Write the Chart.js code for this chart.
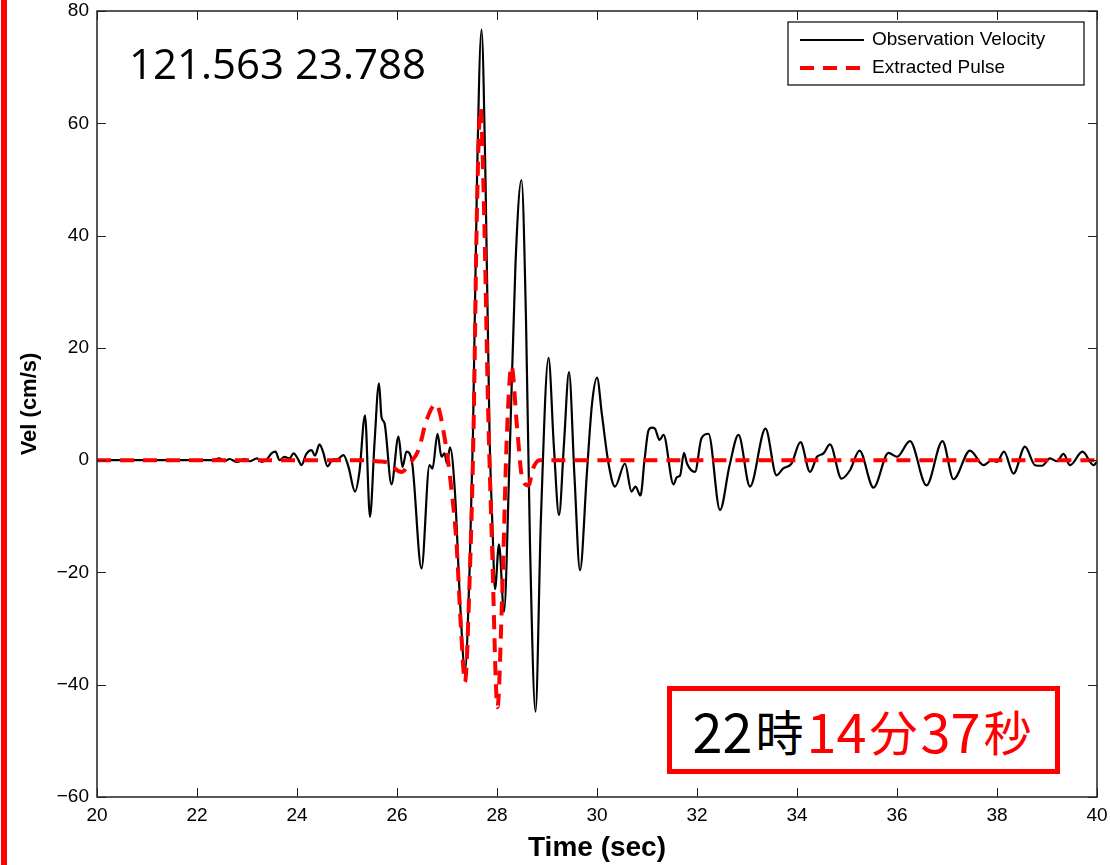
<!DOCTYPE html>
<html>
<head>
<meta charset="utf-8">
<script src="https://cdn.jsdelivr.net/npm/chart.js@4.4.1/dist/chart.umd.min.js"></script>
<style>
  body { margin: 0; background: #fff; }
  #wrap { position: relative; width: 1110px; height: 865px; }
  #redBar { position: absolute; left: 1px; top: 0; width: 6px; height: 865px; background: #ff0000; }
  #coords { position: absolute; left: 129px; top: 36px; font: 42px "Open Sans", sans-serif; color: #000; line-height: 54px; white-space: nowrap; }
  #stamp {
    position: absolute; left: 667px; top: 686px; width: 393px; height: 88px;
    box-sizing: border-box; border: 5px solid #ff0000; background: #fff;
    display: flex; align-items: center; justify-content: center;
    font-family: "Noto Sans CJK JP", sans-serif; white-space: nowrap;
  }
  #stamp .num { font-size: 54px; line-height: 1; }
  #stamp .kan { font-size: 48px; line-height: 1; margin: 0 3px; }
  .blk { color: #000; }
  .red { color: #ff0000; }
</style>
</head>
<body>
<div id="wrap">
  <canvas id="grafico" width="1110" height="865"></canvas>
  <div id="redBar"></div>
  <div id="coords">121.563 23.788</div>
  <div id="stamp"><span class="num blk">22</span><span class="kan blk">時</span><span class="num red">14</span><span class="kan red">分</span><span class="num red">37</span><span class="kan red">秒</span></div>
</div>
<script>
const obsTime = [20, 22.3, 22.45, 22.55, 22.65, 22.8, 22.95, 23.05, 23.2, 23.3, 23.4, 23.49, 23.57, 23.65, 23.75, 23.85, 23.93, 24.02, 24.09, 24.18, 24.29, 24.36, 24.45, 24.52, 24.61, 24.7, 24.82, 24.93, 25.03, 25.16, 25.25, 25.36, 25.46, 25.55, 25.64, 25.69, 25.75, 25.89, 26.03, 26.11, 26.19, 26.3, 26.49, 26.65, 26.71, 26.81, 26.89, 26.95, 27.0, 27.06, 27.16, 27.26, 27.36, 27.45, 27.52, 27.6, 27.69, 27.77, 27.85, 27.91, 27.96, 28.04, 28.14, 28.25, 28.37, 28.49, 28.58, 28.66, 28.77, 28.88, 29.03, 29.14, 29.24, 29.34, 29.44, 29.55, 29.66, 29.8, 29.9, 30.0, 30.1, 30.23, 30.36, 30.56, 30.69, 30.77, 30.87, 30.95, 31.03, 31.1, 31.16, 31.25, 31.33, 31.53, 31.6, 31.66, 31.74, 31.8, 31.96, 32.09, 32.23, 32.46, 32.65, 32.83, 33.06, 33.37, 33.59, 33.72, 33.89, 34.07, 34.26, 34.4, 34.53, 34.66, 34.89, 35.06, 35.25, 35.53, 35.83, 36.0, 36.26, 36.59, 36.91, 37.13, 37.46, 37.73, 37.9, 38.0, 38.14, 38.33, 38.56, 38.76, 38.9, 39.06, 39.2, 39.33, 39.46, 39.71, 39.93, 40];
const obsVel = [0, 0, 0.3, -0.2, 0.2, -0.3, 0.2, -0.2, 0.3, -0.3, 0.2, 1.2, 1.5, 0, 0.6, 0.3, 1.2, 0.2, -0.9, 1.0, 1.8, 0.8, 2.8, 1.5, -1.1, 0, 0.2, 0.9, -1.2, -5.6, -2, 8.0, -10.1, 3, 13.7, 7.7, 6.6, -4.3, 4.2, -1.2, 1.5, -0.3, -19.3, -0.9, -1.5, 4.7, 0.6, 1.2, -0.6, 2.3, -5.9, -25, -37.5, -20, 5, 50, 76.7, 50, 5, -12, -23, -15, -27, 0, 35, 49.9, 25, -15, -44.8, -10, 18.2, 2, -9.8, 3, 15.7, -3, -19.6, -2, 10, 14.7, 8, -0.6, -4.7, -0.6, -5.6, -4.7, -6.3, 0, 5.3, 5.8, 5.6, 3.6, 4.5, -4.3, -3, -2.8, 1.3, -0.6, -2.1, 3.9, 4.7, -8.9, -1, 4.5, -4.7, 5.6, -2.7, -1.5, -0.6, 3.2, -2.1, 0.6, 1.2, 2.8, -3.3, -1.8, 1.7, -4.9, 1.3, 0.6, 3.4, -4.5, 3.4, -3.4, 1.7, -0.9, 0, -0.3, 1.5, -2.4, 2.4, -0.9, -1, 0.3, -0.2, 1.1, -0.9, 1.5, -0.9, -0.3];

// extracted pulse
const pulseTime = [20, 25.3, 25.6, 25.86, 26.0, 26.09, 26.25, 26.43, 26.59, 26.78, 26.96, 27.09, 27.19, 27.28, 27.36, 27.45, 27.53, 27.6, 27.67, 27.74, 27.82, 27.9, 28.01, 28.1, 28.2, 28.29, 28.4, 28.5, 28.63, 28.72, 28.85, 40];
const pulseVel = [0, 0, -0.2, -0.6, -1.8, -2.1, -0.6, 1.8, 7.1, 10, 3.6, -5.3, -14.8, -30, -39.5, -22, 5, 45, 62.7, 45, 10, -15, -44, -25, 5, 16.8, 6, -3, -4.5, -1.5, 0, 0];

const seriesNames = ['Observation Velocity', 'Extracted Pulse'];
const xTicks = [20, 22, 24, 26, 28, 30, 32, 34, 36, 38, 40];
const yTicks = [-60, -40, -20, 0, 20, 40, 60, 80];

const toPoints = (xs, ys) => xs.map((x, i) => ({ x: x, y: ys[i] }));

Chart.defaults.font.family = '"Liberation Sans", Arial, sans-serif';
Chart.defaults.color = '#000';

// box, inward ticks and legend drawn inside the plot, matlab style
const marcoPlugin = {
    id: 'marco',
    afterDraw(chart) {
        const ctx = chart.ctx;
        const a = chart.chartArea;
        const xs = chart.scales.x;
        const ys = chart.scales.y;
        const tl = 9;
        ctx.save();
        ctx.strokeStyle = '#222';
        ctx.lineWidth = 1.5;
        ctx.strokeRect(a.left, a.top, a.right - a.left, a.bottom - a.top);
        ctx.lineWidth = 1;
        ctx.beginPath();
        xTicks.forEach(v => {
            const px = Math.round(xs.getPixelForValue(v)) + 0.5;
            ctx.moveTo(px, a.bottom); ctx.lineTo(px, a.bottom - tl);
            ctx.moveTo(px, a.top); ctx.lineTo(px, a.top + tl);
        });
        yTicks.forEach(v => {
            const py = Math.round(ys.getPixelForValue(v)) + 0.5;
            ctx.moveTo(a.left, py); ctx.lineTo(a.left + tl, py);
            ctx.moveTo(a.right, py); ctx.lineTo(a.right - tl, py);
        });
        ctx.stroke();

        // legend
        const lx = 788, ly = 22, lw = 296, lh = 63;
        ctx.fillStyle = '#fff';
        ctx.fillRect(lx, ly, lw, lh);
        ctx.strokeStyle = '#000';
        ctx.lineWidth = 1.2;
        ctx.strokeRect(lx, ly, lw, lh);
        ctx.font = '19px "Liberation Sans", Arial, sans-serif';
        ctx.textBaseline = 'middle';
        chart.data.datasets.forEach((ds, i) => {
            const yy = ly + 18 + i * 28;
            ctx.strokeStyle = ds.borderColor;
            ctx.lineWidth = ds.borderWidth;
            ctx.setLineDash(ds.borderDash || []);
            ctx.beginPath();
            ctx.moveTo(lx + 12, yy);
            ctx.lineTo(lx + 76, yy);
            ctx.stroke();
            ctx.setLineDash([]);
            ctx.fillStyle = '#000';
            ctx.fillText(ds.label, lx + 84, yy);
        });
        ctx.restore();
    }
};

const canvas = document.getElementById('grafico');
const grafico1 = canvas.getContext('2d');

window.miGrafico = new Chart(grafico1, {
    type: 'line',
    data: {
        datasets: [{
            label: seriesNames[0],
            data: toPoints(obsTime, obsVel),
            borderColor: '#000000',
            borderWidth: 2.2,
            pointRadius: 0,
            cubicInterpolationMode: 'monotone',
            order: 2
        }, {
            label: seriesNames[1],
            data: toPoints(pulseTime, pulseVel),
            borderColor: '#ff0000',
            borderWidth: 4,
            borderDash: [14, 9],
            pointRadius: 0,
            cubicInterpolationMode: 'monotone',
            order: 1
        }]
    },
    options: {
        responsive: false,
        animation: false,
        layout: { padding: { left: 0, top: 11, right: 13, bottom: 0 } },
        plugins: {
            legend: { display: false },
            tooltip: { enabled: false }
        },
        scales: {
            x: {
                type: 'linear',
                min: 20,
                max: 40,
                afterBuildTicks: s => { s.ticks = xTicks.map(v => ({ value: v })); },
                afterFit: s => { s.height = 68; s.paddingLeft = 0; s.paddingRight = 0; },
                grid: { display: false, drawTicks: false },
                border: { display: false },
                ticks: { padding: 7, font: { size: 19 }, maxRotation: 0 },
                title: {
                    display: true,
                    text: 'Time (sec)',
                    font: { size: 28, weight: 'bold' },
                    padding: { top: 0, bottom: 0 }
                }
            },
            y: {
                type: 'linear',
                min: -60,
                max: 80,
                afterBuildTicks: s => { s.ticks = yTicks.map(v => ({ value: v })); },
                afterFit: s => { s.width = 97; s.paddingTop = 0; s.paddingBottom = 0; },
                grid: { display: false, drawTicks: false },
                border: { display: false },
                ticks: {
                    padding: 8,
                    font: { size: 19 },
                    callback: v => (v < 0 ? '\u2212' + Math.abs(v) : String(v))
                },
                title: {
                    display: true,
                    text: 'Vel (cm/s)',
                    font: { size: 22, weight: 'bold' },
                    padding: { top: 17, bottom: 0 }
                }
            }
        }
    },
    plugins: [marcoPlugin]
});
</script>
</body>
</html>
